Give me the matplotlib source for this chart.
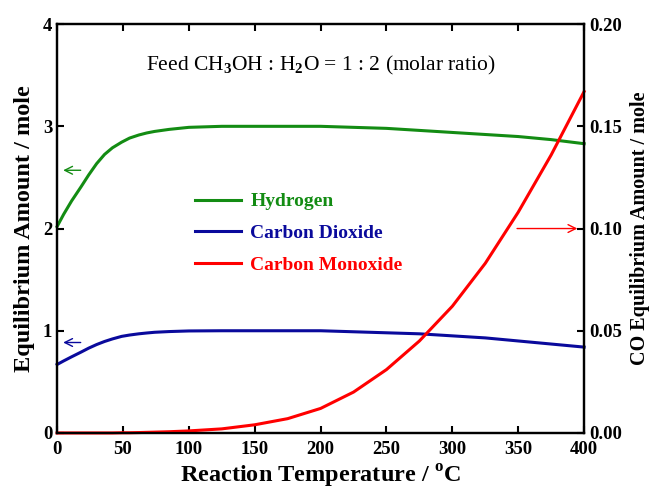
import matplotlib.pyplot as plt

plt.rcParams['font.family'] = ['Liberation Serif', 'DejaVu Serif']
plt.rcParams['font.weight'] = 'bold'
plt.rcParams['mathtext.fontset'] = 'custom'
plt.rcParams['mathtext.rm'] = 'Liberation Serif'

# data
temp = [0, 5, 11, 18, 24, 30, 36, 42, 49, 55, 62, 68, 74, 85, 100, 125, 150, 175, 200, 225, 250, 275, 300, 325, 350, 375, 400]
h2 = [2.02, 2.14, 2.27, 2.405, 2.525, 2.635, 2.725, 2.79, 2.845, 2.885, 2.915, 2.935, 2.95, 2.97, 2.99, 3.0, 3.0, 3.0, 3.0, 2.99, 2.98, 2.96, 2.94, 2.92, 2.90, 2.87, 2.83]
co2 = [0.67, 0.705, 0.745, 0.79, 0.83, 0.865, 0.895, 0.92, 0.945, 0.958, 0.97, 0.978, 0.985, 0.992, 0.998, 1.0, 1.0, 1.0, 1.0, 0.99, 0.98, 0.97, 0.95, 0.93, 0.90, 0.87, 0.84]
co = [0.0, 0.0, 0.0, 0.0, 0.0, 0.0, 0.0, 0.0, 0.0001, 0.0001, 0.0002, 0.0003, 0.0004, 0.0006, 0.001, 0.002, 0.004, 0.007, 0.012, 0.020, 0.031, 0.045, 0.062, 0.083, 0.108, 0.136, 0.167]

green = '#138c13'
blue = '#0a0a9c'
red = '#ff0000'

fig = plt.figure(figsize=(6.49, 4.92), dpi=100)
ax = fig.add_axes([0.088, 0.12, 0.812, 0.831])
ax2 = ax.twinx()

l1, = ax.plot(temp, h2, color=green, lw=2.2, label='Hydrogen', clip_on=False)
l2, = ax.plot(temp, co2, color=blue, lw=2.2, label='Carbon Dioxide', clip_on=False)
l3, = ax2.plot(temp, co, color=red, lw=2.2, label='Carbon Monoxide', clip_on=False)

ax.set_xlim(0, 400)
ax.set_ylim(0, 4)
ax2.set_ylim(0, 0.2)
ax.set_xticks(range(0, 401, 50))
ax.set_yticks([0, 1, 2, 3, 4])
ax2.set_yticks([0, 0.05, 0.10, 0.15, 0.20])
ax2.set_yticklabels(['0.00', '0.05', '0.10', '0.15', '0.20'])

ax.tick_params(axis='both', direction='in', width=1.5, length=5, labelsize=13.5, top=True)
ax.tick_params(axis='x', pad=6)
ax2.tick_params(axis='y', direction='in', width=1.5, length=5, labelsize=13.5)
for a in (ax, ax2):
    for s in a.spines.values():
        s.set_linewidth(1.6)

ax.set_xlabel('Reaction Temperature / $^\\mathregular{o}$C', fontsize=17.5, fontweight='bold', labelpad=3)
ax.set_ylabel('Equilibrium Amount / mole', fontsize=17.5, fontweight='bold', labelpad=6)
ax2.set_ylabel('CO Equilibrium Amount / mole', fontsize=14.5, fontweight='bold', labelpad=6)

ax.text(0.5, 0.898, 'Feed CH$_3$OH : H$_2$O = 1 : 2 (molar ratio)', transform=ax.transAxes,
        ha='center', va='center', fontsize=15.5, fontweight='normal')

# arrows pointing to the axes
ap = dict(arrowstyle='->', lw=1.0, mutation_scale=14)
ax.annotate('', xy=(2.5, 2.57), xytext=(20, 2.57), arrowprops=dict(ap, color=green))
ax.annotate('', xy=(2.5, 0.885), xytext=(20, 0.885), arrowprops=dict(ap, color=blue))
ax2.annotate('', xy=(397, 0.10), xytext=(347, 0.10), arrowprops=dict(ap, color=red))

leg = ax.legend(handles=[l1, l2, l3], loc='upper left', bbox_to_anchor=(0.228, 0.63),
                frameon=False, labelcolor='linecolor', handlelength=2.4, handletextpad=0.45,
                prop={'weight': 'bold', 'size': 14}, labelspacing=0.72)

fig.savefig('out.png', dpi=100)
